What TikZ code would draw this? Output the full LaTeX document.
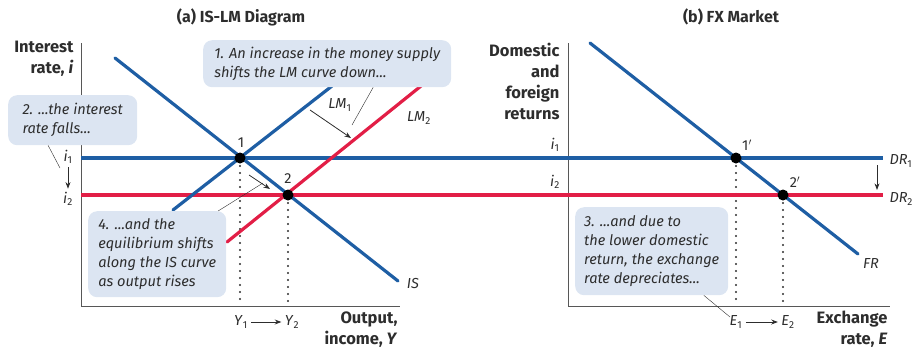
\documentclass[tikz,border=0pt]{standalone}
\usepackage{fontspec}
\setmainfont{Fira Sans}
\usetikzlibrary{arrows.meta, positioning, calc}
\definecolor{curveblue}{RGB}{30,94,164}
\definecolor{curvered}{RGB}{226,30,70}
\definecolor{notefill}{RGB}{220,229,242}
\definecolor{ink}{RGB}{45,45,45}
\newcommand{\vsub}[2]{\textit{#1}\textsubscript{#2}}
\tikzset{
  curve/.style={line width=3.2pt, line cap=round},
  flat/.style={line width=3.8pt},
  eqdot/.style={circle, fill=black, inner sep=0pt, minimum size=11pt},
  note/.style={fill=notefill, rounded corners=9pt, anchor=north west, align=left,
    inner sep=4pt, text=ink, font=\itshape\fontsize{14.6}{19}\selectfont},
  axistitle/.style={font=\bfseries\fontsize{16.5}{21}\selectfont, text=ink, align=right},
  panel/.style={font=\bfseries\fontsize{16}{18}\selectfont, text=ink},
  ticklab/.style={font=\fontsize{14.5}{16}\selectfont, text=ink},
  leader/.style={ink, thin},
  guide/.style={line width=2.1pt, line cap=round, dash pattern=on 0pt off 7pt, ink},
}
\begin{document}
\begin{tikzpicture}[x=1pt, y=-1pt]
  \useasboundingbox (0,0) rectangle (915,349);
  % --- titles ------------------------------------------------------
  \node[panel] (ta) at (241,17) {(a) IS-LM Diagram};
  \node[panel] (tb) at (731,17) {(b) FX Market};
  % --- axes --------------------------------------------------------
  \draw[ink!80, line width=0.9pt] (81,43) -- (81,306) -- (400,306);
  \draw[ink!80, line width=0.9pt] (568,43) -- (568,306) -- (890,306);
  \node[axistitle, anchor=north east] (ylab) at (77,38) {Interest\\rate, \textit{i}};
  \node[axistitle, anchor=south east] (xlab) at (401,351) {Output,\\income, \textit{Y}};
  \node[axistitle, anchor=north east] (rlab) at (563,40) {Domestic\\and\\foreign\\returns};
  \node[axistitle, anchor=south east] (elab) at (891,351) {Exchange\\rate, \textit{E}};
  % --- dotted guides -----------------------------------------------
  \draw[guide] (240,166) -- (240,304);
  \draw[guide] (288,203) -- (288,304);
  \draw[guide] (736,166) -- (736,304);
  \draw[guide] (783,203) -- (783,304);
  % --- return lines ------------------------------------------------
  \draw[flat, curveblue] (81,158) -- (883,158);
  \draw[flat, curvered] (81,195) -- (883,195);
  % --- IS, LM and FR curves ----------------------------------------
  \draw[curve, curveblue] (115,58) -- (398,281);
  \draw[curve, curveblue] (173,210) -- (332,86);
  \draw[curve, curvered] (227,242) -- (421,86);
  \draw[curve, curveblue] (590,43) -- (858,254);
  % --- equilibria --------------------------------------------------
  \node[eqdot] (e1) at (240,158) {};
  \node[eqdot] (e2) at (288,195) {};
  \node[eqdot] (f1) at (736,158) {};
  \node[eqdot] (f2) at (783,195) {};
  \node[ticklab] (e1lab) at (241,143) {1};
  \node[ticklab] (e2lab) at (288,179) {2};
  \node[ticklab] (f1lab) at (747,145) {1$'$};
  \node[ticklab] (f2lab) at (795,182) {2$'$};
  % --- curve labels ------------------------------------------------
  \node[ticklab] (lm1) at (340,105) {\vsub{LM}{1}};
  \node[ticklab] (lm2) at (419,118) {\vsub{LM}{2}};
  \node[ticklab] (islab) at (413,283) {\textit{IS}};
  \node[ticklab] (frlab) at (871,263) {\textit{FR}};
  \node[ticklab, anchor=west] (dr1) at (886,161) {\vsub{DR}{1}};
  \node[ticklab, anchor=west] (dr2) at (886,199) {\vsub{DR}{2}};
  % --- tick labels and shift arrows --------------------------------
  \node[ticklab] (i1a) at (68,157) {\vsub{i}{1}};
  \node[ticklab] (i2a) at (68,199) {\vsub{i}{2}};
  \node[ticklab] (i1b) at (555,145) {\vsub{i}{1}};
  \node[ticklab] (i2b) at (555,182) {\vsub{i}{2}};
  \draw[-{Stealth}, ink, thick] (i1a.south) -- (i2a.north);
  \node[ticklab] (y1) at (241,322) {\vsub{Y}{1}};
  \node[ticklab] (y2) at (292,322) {\vsub{Y}{2}};
  \draw[-{Stealth}, ink, thick] (y1) -- (y2);
  \node[ticklab] (x1) at (736,322) {\vsub{E}{1}};
  \node[ticklab] (x2) at (788,322) {\vsub{E}{2}};
  \draw[-{Stealth}, ink, thick] (x1) -- (x2);
  \coordinate (lmfrom) at (310,110);
  \coordinate (lmto) at (351,138);
  \draw[-{Stealth}, ink, thick] (lmfrom) -- (lmto);
  \coordinate (eqfrom) at (249,175);
  \coordinate (eqto) at (270,189);
  \draw[-{Stealth}, ink, thick] (eqfrom) -- (eqto);
  \coordinate (drfrom) at (877,165);
  \coordinate (drto) at (877,190);
  \draw[-{Stealth}, ink, thick] (drfrom) -- (drto);
  % --- callouts ----------------------------------------------------
  \node[note, minimum width=248pt, minimum height=47pt] (n1) at (203,40)
    {1. An increase in the money supply\\shifts the LM curve down...};
  \node[note, minimum width=129pt, minimum height=50pt] (n2) at (8,95)
    {2. ...the interest\\rate falls...};
  \node[note, minimum width=138pt, minimum height=86pt] (n4) at (88,211)
    {4. ...and the\\equilibrium shifts\\along the IS curve\\as output rises};
  \node[note, minimum width=153pt, minimum height=88pt] (n3) at (575,207)
    {3. ...and due to\\the lower domestic\\return, the exchange\\rate depreciates...};
  \coordinate (p1) at (352,125);
  \coordinate (p2) at (60,168);
  \coordinate (p4) at (263,183);
  \coordinate (p3) at (730,317);
  \draw[leader] ($(n1.south west)!0.685!(n1.south east)$) -- (p1);
  \draw[leader] ($(n2.south west)!0.31!(n2.south east)$) -- (p2);
  \draw[leader] ($(n4.north west)!0.94!(n4.north east)$) -- (p4);
  \draw[leader] ($(n3.south west)!0.84!(n3.south east)$) -- (p3);
\end{tikzpicture}
\end{document}
